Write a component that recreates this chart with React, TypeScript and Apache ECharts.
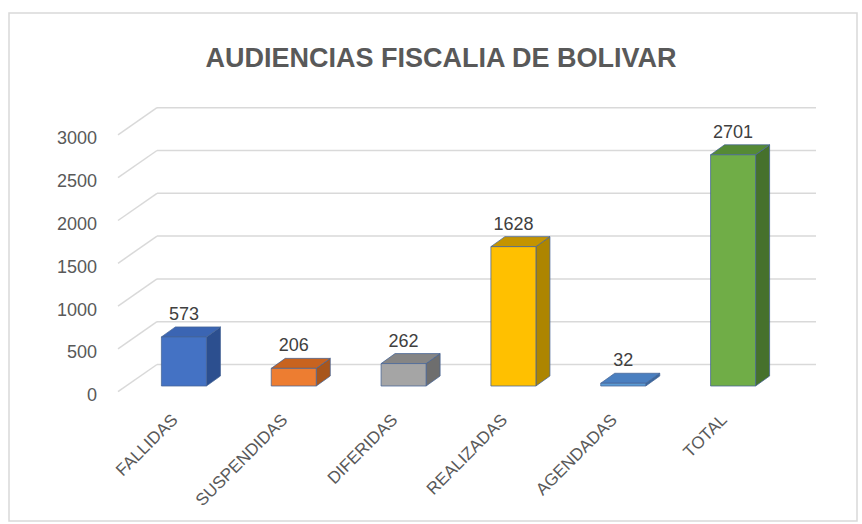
import React, { useEffect, useRef } from "react";
import * as echarts from "echarts";

// ---- data ----
const titleText = "AUDIENCIAS FISCALIA DE BOLIVAR";
const categories = ["FALLIDAS", "SUSPENDIDAS", "DIFERIDAS", "REALIZADAS", "AGENDADAS", "TOTAL"];
const values = [573, 206, 262, 1628, 32, 2701];
const yTicks = [0, 500, 1000, 1500, 2000, 2500, 3000];

// ---- styles ----
const frontColors = ["#4472C4", "#ED7D31", "#A5A5A5", "#FFC000", "#5B9BD5", "#70AD47"];
const topColors = ["#3B65B3", "#C8631F", "#858585", "#C49400", "#4A7FC0", "#558A35"];
const sideColors = ["#2C4F8F", "#A8561C", "#6E6E6E", "#AD8500", "#3B679E", "#46712C"];

const FONT = "'Liberation Sans', Arial, sans-serif";
const BAR_DX = 14;
const BAR_DY = -10;
const BACK_DX = 29;
const BACK_DY = -21.5;
const FRONT_DX = -10;
const FRONT_DY = 5.7;

export default function App() {
  const ref = useRef<HTMLDivElement>(null);
  useEffect(() => {
    if (!ref.current) return;
    const chart = echarts.init(ref.current, undefined, { renderer: "svg" });
    const option: any = {
      animation: false,
      backgroundColor: "#ffffff",
      graphic: [
        {
          type: "rect",
          shape: { x: 9, y: 13, width: 848, height: 508 },
          style: { fill: "none", stroke: "#d9d9d9", lineWidth: 1.5 },
          silent: true,
        },
        {
          type: "text",
          x: 441,
          y: 58,
          style: {
            text: titleText,
            fill: "#595959",
            font: `bold 27px ${FONT}`,
            align: "center",
            verticalAlign: "middle",
          },
        },
      ],
      grid: { left: 128, right: 75, top: 129.2, bottom: 138, containLabel: false },
      xAxis: {
        type: "category",
        data: categories,
        axisLine: { show: false },
        axisTick: { show: false },
        splitLine: { show: false },
        axisLabel: { show: false },
      },
      yAxis: {
        type: "value",
        min: 0,
        max: 3000,
        interval: 500,
        show: false,
      },
      series: [
        {
          type: "custom",
          z: 1,
          silent: true,
          data: yTicks.map((v) => [0, v]),
          renderItem: (params: any, api: any) => {
            const v = api.value(1);
            const y = api.coord([0, v])[1];
            const cs = params.coordSys;
            const left = cs.x;
            const right = cs.x + cs.width;
            const lineStyle = { stroke: "#d9d9d9", lineWidth: 1.5, fill: "none" };
            return {
              type: "group",
              children: [
                {
                  type: "line",
                  shape: { x1: left + BACK_DX, y1: y + BACK_DY, x2: right + BACK_DX, y2: y + BACK_DY },
                  style: lineStyle,
                },
                {
                  type: "line",
                  shape: { x1: left + FRONT_DX, y1: y + FRONT_DY, x2: left + BACK_DX, y2: y + BACK_DY },
                  style: lineStyle,
                },
                {
                  type: "text",
                  x: left + FRONT_DX - 21,
                  y: y + FRONT_DY + 3.5,
                  style: {
                    text: String(v),
                    fill: "#595959",
                    font: `18px ${FONT}`,
                    align: "right",
                    verticalAlign: "middle",
                  },
                },
              ],
            };
          },
        },
        {
          type: "custom",
          z: 2,
          silent: true,
          data: values.map((v, i) => [i, v]),
          renderItem: (params: any, api: any) => {
            const i = api.value(0);
            const v = api.value(1);
            const top = api.coord([i, v]);
            const base = api.coord([i, 0]);
            const band = api.size([1, 0])[0];
            const w = band * 0.41;
            const cx = top[0] + 1;
            const x0 = cx - w / 2;
            const x1 = cx + w / 2;
            const yT = top[1];
            const yB = base[1];
            const stroke = "rgba(70,100,150,0.75)";
            const lw = 1;
            return {
              type: "group",
              children: [
                {
                  type: "polygon",
                  shape: { points: [[x1, yB], [x1 + BAR_DX, yB + BAR_DY], [x1 + BAR_DX, yT + BAR_DY], [x1, yT]] },
                  style: { fill: sideColors[i], stroke, lineWidth: lw },
                },
                {
                  type: "polygon",
                  shape: { points: [[x0, yT], [x1, yT], [x1 + BAR_DX, yT + BAR_DY], [x0 + BAR_DX, yT + BAR_DY]] },
                  style: { fill: topColors[i], stroke, lineWidth: lw },
                },
                {
                  type: "rect",
                  shape: { x: x0, y: yT, width: w, height: Math.max(yB - yT, 0.5) },
                  style: { fill: frontColors[i], stroke, lineWidth: lw },
                },
                {
                  type: "text",
                  x: cx,
                  y: yT + BAR_DY - 13,
                  style: {
                    text: String(v),
                    fill: "#404040",
                    font: `18px ${FONT}`,
                    align: "center",
                    verticalAlign: "middle",
                  },
                },
                {
                  type: "text",
                  x: cx - 9,
                  y: yB + 31,
                  rotation: Math.PI / 4,
                  style: {
                    text: categories[i],
                    fill: "#595959",
                    font: `17px ${FONT}`,
                    align: "right",
                    verticalAlign: "middle",
                  },
                },
              ],
            };
          },
        },
      ],
    };
    chart.setOption(option);
    return () => chart.dispose();
  }, []);
  return (
    <div
      ref={ref}
      style={{ position: "absolute", left: 0, top: 0, width: 862, height: 524 }}
    />
  );
}
